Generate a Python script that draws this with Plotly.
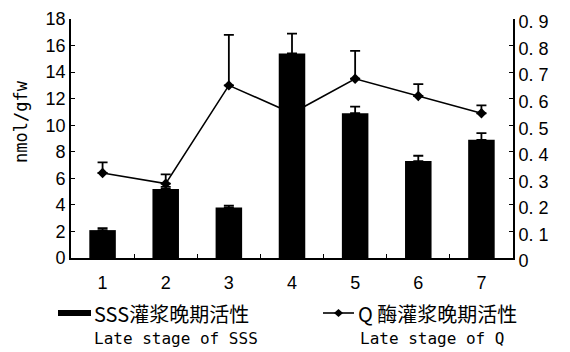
import plotly.graph_objects as go

# Grain-filling stages
stages = ["1", "2", "3", "4", "5", "6", "7"]

# SSS activity (nmol/gfw, left axis) and upper error
sss_values = [2.1, 5.2, 3.8, 15.4, 10.9, 7.3, 8.9]
sss_errors = [0.15, 0.15, 0.15, 1.5, 0.5, 0.4, 0.5]

# Q enzyme activity (right axis) and upper error
q_values = [0.32, 0.28, 0.65, 0.545, 0.675, 0.61, 0.545]
q_errors = [0.04, 0.035, 0.19, 0.04, 0.105, 0.045, 0.03]

left_ticks = [0, 2, 4, 6, 8, 10, 12, 14, 16, 18]
right_ticks = [0, 0.1, 0.2, 0.3, 0.4, 0.5, 0.6, 0.7, 0.8, 0.9]
right_labels = ["0", "0. 1", "0. 2", "0. 3", "0. 4", "0. 5", "0. 6", "0. 7", "0. 8", "0. 9"]

bar_name_cn = "SSS灌浆晚期活性"
bar_name_en = "Late stage of SSS"
line_name_cn = "Q 酶灌浆晚期活性"
line_name_en = "Late stage of Q"
y_title = "nmol/gfw"

W, H = 570, 352
ML, MR, MT, MB = 71, 57, 19, 94
PW, PH = W - ML - MR, H - MT - MB


def px(x):
    """Pixel column -> paper x."""
    return (x - ML) / PW


def py(y):
    """Pixel row -> paper y."""
    return (H - MB - y) / PH


num_font = dict(family="Liberation Sans, Arial", size=18, color="black")
cn_font = dict(family="Noto Sans CJK SC", size=20, color="black")
en_font = dict(family="DejaVu Sans Mono", size=16, color="black")

fig = go.Figure()

# Line on the primary (right-side) axis so the bars overlay it
fig.add_trace(go.Scatter(
    x=stages, y=q_values, yaxis="y", mode="lines+markers",
    name=line_name_cn, showlegend=False,
    line=dict(color="black", width=1.6),
    marker=dict(symbol="diamond", size=8, color="black"),
    error_y=dict(type="data", symmetric=False, array=q_errors,
                 arrayminus=[0] * len(q_errors), color="black",
                 thickness=1.8, width=5),
))

fig.add_trace(go.Bar(
    x=stages, y=sss_values, yaxis="y2",
    name=bar_name_cn, showlegend=False,
    marker=dict(color="black", line=dict(width=0)),
    error_y=dict(type="data", symmetric=False, array=sss_errors,
                 arrayminus=[0] * len(sss_errors), color="black",
                 thickness=1.8, width=5),
))

# Legend drawn below the axis: symbols as shapes, labels as annotations
row1, row2 = 313, 338
shapes = [
    dict(type="rect", xref="paper", yref="paper", x0=px(58), x1=px(91),
         y0=py(row1 + 3), y1=py(row1 - 3), fillcolor="black", line=dict(width=0)),
    dict(type="line", xref="paper", yref="paper", x0=px(323), x1=px(354),
         y0=py(row1), y1=py(row1), line=dict(color="black", width=1.6)),
    dict(type="path", xref="paper", yref="paper",
         path=f"M {px(334)},{py(row1)} L {px(338.5)},{py(row1 - 4)} "
              f"L {px(343)},{py(row1)} L {px(338.5)},{py(row1 + 4)} Z",
         fillcolor="black", line=dict(width=0)),
]

annotations = [
    dict(text=bar_name_cn, x=px(92), y=py(row1), font=cn_font),
    dict(text=bar_name_en, x=px(92), y=py(row2), font=en_font),
    dict(text=line_name_cn, x=px(356), y=py(row1), font=cn_font),
    dict(text=line_name_en, x=px(358), y=py(row2), font=en_font),
]
for a in annotations:
    a.update(xref="paper", yref="paper", xanchor="left", yanchor="middle", showarrow=False)

annotations.append(dict(text=y_title, xref="paper", yref="paper", x=px(21), y=py(122),
                        xanchor="center", yanchor="middle", textangle=-90, showarrow=False,
                        font=dict(family="DejaVu Sans Mono", size=17, color="black")))

fig.update_layout(
    width=W, height=H,
    margin=dict(l=ML, r=MR, t=MT, b=MB, autoexpand=False),
    paper_bgcolor="white", plot_bgcolor="white",
    bargap=0.58,
    showlegend=False,
    shapes=shapes,
    annotations=annotations,
    xaxis=dict(type="category", showline=True, linecolor="black", linewidth=1.6,
               ticks="inside", ticklen=4, tickcolor="black", tickson="boundaries",
               tickfont=num_font, ticklabelstandoff=8, showgrid=False, zeroline=False),
    yaxis=dict(side="right", range=[0, 0.9], tickvals=right_ticks, ticktext=right_labels,
               showline=True, linecolor="black", linewidth=1.6,
               ticks="inside", ticklen=4, tickcolor="black", ticklabelshift=3,
               tickfont=num_font, showgrid=False, zeroline=False),
    yaxis2=dict(side="left", overlaying="y", range=[0, 18], tickvals=left_ticks,
                showline=True, linecolor="black", linewidth=1.6,
                ticks="inside", ticklen=4, tickcolor="black",
                tickfont=num_font, showgrid=False, zeroline=False),
)

fig.write_html("out.html")
